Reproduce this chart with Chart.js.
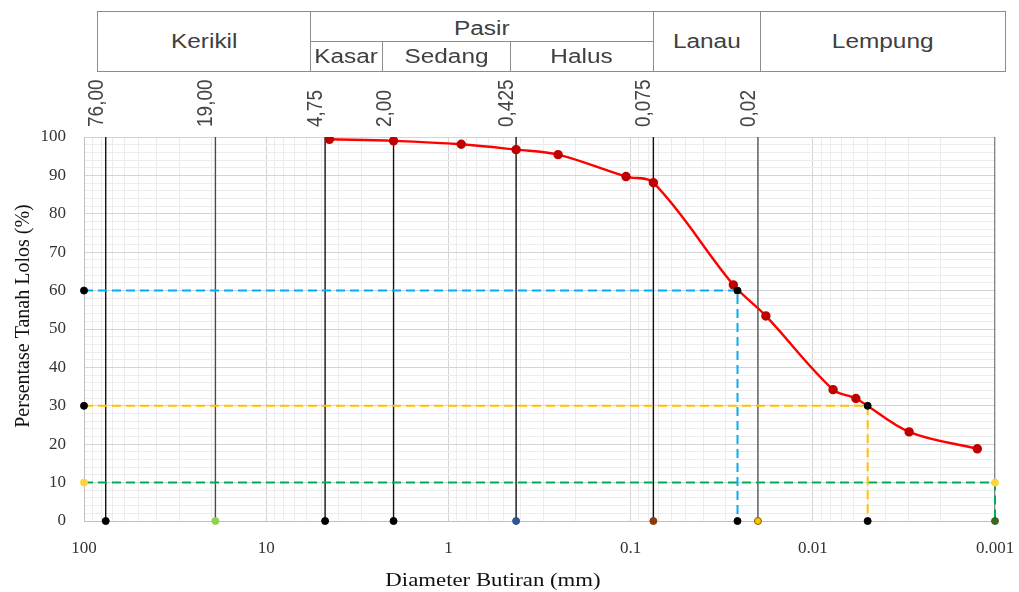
<!DOCTYPE html>
<html>
<head>
<meta charset="utf-8">
<script src="https://cdn.jsdelivr.net/npm/chart.js@4.4.1/dist/chart.umd.min.js"></script>
<style>
    body { margin: 0; background: #fff; }
    #wrap { position: relative; width: 1019px; height: 592px; }
    #gradation { position: absolute; left: 0; top: 0; }
    .cell {
        position: absolute;
        box-sizing: border-box;
        border: 1px solid #8c8c8c;
        display: flex;
        align-items: center;
        justify-content: center;
        font-family: 'Liberation Sans', Arial, sans-serif;
        font-size: 20px;
        color: #404040;
        background: #fff;
    }
    .cell span { display: inline-block; transform: scaleX(1.22); }
</style>
</head>
<body>
<div id="wrap">
    <canvas id="gradation" width="1019" height="592"></canvas>
    <div id="soil-table"></div>
</div>
<script>
// --- Data ---

// Grain size distribution (sieve + hydrometer)
const diameters = [4.5, 2.0, 0.85, 0.425, 0.25, 0.106, 0.075, 0.0273, 0.0181, 0.00774, 0.0058, 0.00296, 0.00125];
const percentPassing = [99.4, 99.0, 98.1, 96.7, 95.4, 89.7, 88.1, 61.5, 53.4, 34.2, 31.9, 23.2, 18.8];

// Boundary sizes (mm) with their labels
const boundarySizes = [76, 19, 4.75, 2.0, 0.425, 0.075, 0.02, 0.001];
const boundaryLabels = ['76,00', '19,00', '4,75', '2,00', '0,425', '0,075', '0,02'];
const boundaryLineColors = ['#111', '#4d4d4d', '#111', '#111', '#111', '#111', '#555', '#555'];
const boundaryDotColors = ['#000', '#92d050', '#000', '#000', '#2f5597', '#843c0c', '#ffc000', '#3f6427'];

// D60, D30, D10
const dPercent = [60, 30, 10];
const dSize = [0.0259, 0.005, 0.001];
const dLineColors = ['#00b0f0', '#ffc000', '#00b050'];
const dDotColors = ['#000', '#000', '#ffd33d'];
const dBottomDot = [true, true, false];

// Axis ticks
const xDecades = [100, 10, 1, 0.1, 0.01, 0.001];
const xDecadeLabels = ['100', '10', '1', '0.1', '0.01', '0.001'];

// Soil classification header
const soilClasses = ['Kerikil', 'Pasir', 'Kasar', 'Sedang', 'Halus', 'Lanau', 'Lempung'];

// --- Header table (layout only) ---
const cellBoxes = [
    [97, 310, 11, 71],
    [310, 653, 11, 41],
    [310, 382, 41, 71],
    [382, 510, 41, 71],
    [510, 653, 41, 71],
    [653, 760, 11, 71],
    [760, 1005, 11, 71]
];
const tableEl = document.getElementById('soil-table');
soilClasses.forEach((name, i) => {
    const [x1, x2, y1, y2] = cellBoxes[i];
    const div = document.createElement('div');
    div.className = 'cell';
    div.style.left = x1 + 'px';
    div.style.top = y1 + 'px';
    div.style.width = (x2 - x1 + 1) + 'px';
    div.style.height = (y2 - y1 + 1) + 'px';
    if (name === 'Pasir') div.style.paddingTop = '4px';
    div.innerHTML = '<span>' + name + '</span>';
    tableEl.appendChild(div);
});

// --- Chart ---

const isDecade = v => xDecades.some(d => Math.abs(d - v) / d < 1e-6);

// log ticks 1..9 for each decade
const xTicks = [];
[0.001, 0.01, 0.1, 1, 10].forEach(base => {
    for (let m = 1; m < 10; m++) xTicks.push(+(m * base).toPrecision(3));
});
xTicks.push(100);

const datasets = [];

// D dots (top-most)
const dDots = [];
dPercent.forEach((p, i) => {
    dDots.push({ x: 100, y: p, c: dDotColors[i] });
    dDots.push({ x: dSize[i], y: p, c: dDotColors[i] });
    if (dBottomDot[i]) dDots.push({ x: dSize[i], y: 0, c: '#000' });
});
datasets.push({
    data: dDots.map(d => ({ x: d.x, y: d.y })),
    pointRadius: 3.5,
    pointBackgroundColor: dDots.map(d => d.c),
    pointBorderColor: dDots.map(d => d.c),
    showLine: false,
    clip: false
});

// boundary dots on the x axis
datasets.push({
    data: boundarySizes.map(s => ({ x: s, y: 0 })),
    pointRadius: 3.5,
    pointBackgroundColor: boundaryDotColors,
    pointBorderColor: boundaryDotColors.map(c => c === '#ffc000' ? '#7f6000' : c),
    pointBorderWidth: 1,
    showLine: false,
    clip: false
});

// gradation curve
datasets.push({
    data: diameters.map((d, i) => ({ x: d, y: percentPassing[i] })),
    borderColor: '#ff0000',
    borderWidth: 2.4,
    pointRadius: 3.5,
    pointBackgroundColor: '#c00000',
    pointBorderColor: '#c00000',
    showLine: true,
    tension: 0.35
});

// D dashed lines
dPercent.forEach((p, i) => {
    datasets.push({
        data: [{ x: 100, y: p }, { x: dSize[i], y: p }, { x: dSize[i], y: 0 }],
        borderColor: dLineColors[i],
        borderWidth: 2,
        borderDash: [9, 5],
        pointRadius: 0,
        showLine: true,
        clip: false
    });
});

// boundary vertical lines
boundarySizes.forEach((s, i) => {
    datasets.push({
        data: [{ x: s, y: 0 }, { x: s, y: 100 }],
        borderColor: boundaryLineColors[i],
        borderWidth: 1.4,
        pointRadius: 0,
        showLine: true
    });
});

const annotationText = {
    id: 'annotationText',
    afterDraw(chart) {
        const { ctx, scales: { x, y } } = chart;
        ctx.save();

        // boundary labels above the plot
        ctx.fillStyle = '#454545';
        ctx.font = '19px "Liberation Sans", Arial, sans-serif';
        boundaryLabels.forEach((label, i) => {
            const px = x.getPixelForValue(boundarySizes[i]);
            ctx.save();
            ctx.translate(px - 3, y.top - 10);
            ctx.scale(1.15, 1);
            ctx.rotate(-Math.PI / 2);
            ctx.textAlign = 'left';
            ctx.textBaseline = 'alphabetic';
            ctx.fillText(label, 0, 0);
            ctx.restore();
        });

        // axis titles
        ctx.fillStyle = '#111';
        ctx.font = '20px "Liberation Serif", "Times New Roman", serif';
        ctx.save();
        ctx.translate(23, 316);
        ctx.scale(1.1, 1);
        ctx.rotate(-Math.PI / 2);
        ctx.textAlign = 'center';
        ctx.textBaseline = 'middle';
        ctx.fillText('Persentase Tanah Lolos (%)', 0, 0);
        ctx.restore();

        ctx.font = '19px "Liberation Serif", "Times New Roman", serif';
        ctx.save();
        ctx.translate(493, 586);
        ctx.scale(1.2, 1);
        ctx.textAlign = 'center';
        ctx.textBaseline = 'alphabetic';
        ctx.fillText('Diameter Butiran (mm)', 0, 0);
        ctx.restore();

        ctx.restore();
    }
};

const tickFont = { family: '"Liberation Serif", "Times New Roman", serif', size: 17 };

new Chart(document.getElementById('gradation'), {
    type: 'scatter',
    data: { datasets: datasets },
    options: {
        responsive: false,
        animation: false,
        layout: { padding: { top: 137, right: 24, left: 0, bottom: 0 } },
        plugins: {
            legend: { display: false },
            tooltip: { enabled: false }
        },
        scales: {
            x: {
                type: 'logarithmic',
                reverse: true,
                min: 0.001,
                max: 100,
                afterBuildTicks: s => { s.ticks = xTicks.map(v => ({ value: v })); },
                afterFit: s => { s.height = 71; },
                ticks: {
                    autoSkip: false,
                    maxRotation: 0,
                    minRotation: 0,
                    padding: 17,
                    color: '#333',
                    font: tickFont,
                    callback: v => {
                        const i = xDecades.findIndex(d => Math.abs(d - v) / d < 1e-6);
                        return i >= 0 ? xDecadeLabels[i] : '';
                    }
                },
                grid: {
                    color: ctx => (ctx.tick && isDecade(ctx.tick.value)) ? '#d4d4d4' : '#ececec',
                    drawTicks: false
                },
                border: { color: '#c0c0c0' }
            },
            y: {
                min: 0,
                max: 100,
                afterFit: s => { s.width = 84; },
                ticks: {
                    stepSize: 2,
                    autoSkip: false,
                    padding: 18,
                    color: '#333',
                    font: tickFont,
                    callback: v => (v % 10 === 0 ? String(v) : '')
                },
                grid: {
                    color: ctx => (ctx.tick && ctx.tick.value % 10 === 0) ? '#d4d4d4' : '#ececec',
                    drawTicks: false
                },
                border: { color: '#c0c0c0' }
            }
        }
    },
    plugins: [annotationText]
});
</script>
</body>
</html>
